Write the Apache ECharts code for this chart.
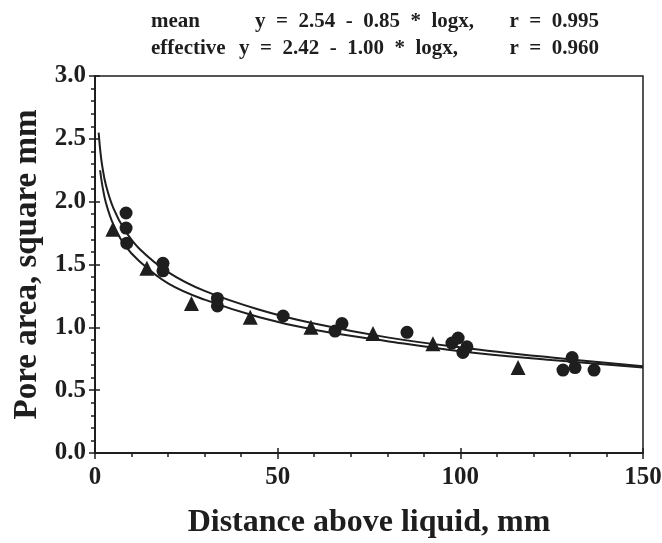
<!DOCTYPE html>
<html>
<head>
<meta charset="utf-8">
<script src="https://cdn.jsdelivr.net/npm/echarts@6/dist/echarts.min.js"></script>
<style>
html,body{margin:0;padding:0;background:#fff;}
#chart{width:662px;height:543px;}
</style>
</head>
<body>
<div id="chart"></div>
<script>
// Mean pore area measurements (circles)
var meanX = [8.5, 8.5, 8.7, 18.6, 18.6, 33.5, 33.5, 51.5, 65.7, 67.6, 85.4, 97.7, 99.4, 101.8, 100.7, 128.1, 130.6, 131.4, 136.6];
var meanY = [1.91, 1.79, 1.67, 1.51, 1.45, 1.23, 1.17, 1.09, 0.97, 1.03, 0.96, 0.875, 0.915, 0.845, 0.80, 0.66, 0.76, 0.68, 0.66];

// Effective pore area measurements (triangles)
var effX = [4.9, 14.2, 26.4, 42.5, 59.1, 76.1, 92.5, 115.8];
var effY = [1.78, 1.47, 1.19, 1.08, 1.00, 0.95, 0.87, 0.68];

// Fitted curves
var fitMeanX = [1, 1.5, 2, 3, 5, 8, 12, 20, 30, 45, 60, 80, 100, 125, 150];
var fitMeanY = [2.55, 2.39, 2.28, 2.13, 1.95, 1.78, 1.63, 1.44, 1.29, 1.14, 1.03, 0.92, 0.84, 0.76, 0.69];
var fitEffX = [1.4, 2, 3, 5, 8, 12, 20, 30, 45, 60, 80, 100, 125, 150];
var fitEffY = [2.25, 2.13, 1.99, 1.82, 1.66, 1.53, 1.35, 1.22, 1.08, 0.98, 0.89, 0.81, 0.74, 0.68];

// Axis setup
var xMin = 0, xMax = 150, xStep = 50;
var yMin = 0, yMax = 3, yStep = 0.5;

function pairs(xs, ys) {
  return xs.map(function (x, i) { return [x, ys[i]]; });
}

var ink = '#1e1e1e';
var serif = '"Liberation Serif", "DejaVu Serif", serif';

var chart = echarts.init(document.getElementById('chart'), null, { renderer: 'canvas' });

var headerStyle = { fontFamily: serif, fontWeight: 'bold', fontSize: 21, fill: ink };

chart.setOption({
  animation: false,
  backgroundColor: '#fff',
  grid: {
    left: 95, top: 76, right: 19, bottom: 90,
    outerBoundsMode: 'none', containLabel: false,
    show: true, borderColor: ink, borderWidth: 1.5, backgroundColor: 'transparent'
  },
  graphic: [
    { type: 'text', left: 151, top: 11, style: Object.assign({ text: 'mean' }, headerStyle) },
    { type: 'text', left: 255, top: 11, style: Object.assign({ text: 'y  =  2.54  -  0.85  *  logx,' }, headerStyle) },
    { type: 'text', right: 63, top: 11, style: Object.assign({ text: 'r  =  0.995' }, headerStyle) },
    { type: 'text', left: 151, top: 38, style: Object.assign({ text: 'effective' }, headerStyle) },
    { type: 'text', left: 239, top: 38, style: Object.assign({ text: 'y  =  2.42  -  1.00  *  logx,' }, headerStyle) },
    { type: 'text', right: 63, top: 38, style: Object.assign({ text: 'r  =  0.960' }, headerStyle) }
  ],
  xAxis: [{
    type: 'value', min: xMin, max: xMax, interval: xStep,
    name: 'Distance above liquid, mm', nameLocation: 'middle', nameGap: 54,
    nameTextStyle: { fontFamily: serif, fontWeight: 'bold', fontSize: 32, color: ink },
    axisLine: { show: true, onZero: false, lineStyle: { color: ink, width: 2 } },
    axisTick: { show: true, length: 6, lineStyle: { color: ink, width: 1.5 } },
    minorTick: { show: true, splitNumber: 5, length: 4, lineStyle: { color: ink, width: 1.5 } },
    axisLabel: { margin: 12, fontFamily: serif, fontWeight: 'bold', fontSize: 25, color: ink },
    splitLine: { show: false }
  }, {
    type: 'value', min: xMin, max: xMax, interval: xStep, position: 'bottom',
    axisLine: { show: false }, axisLabel: { show: false }, splitLine: { show: false },
    axisTick: { show: true, inside: true, length: 5, lineStyle: { color: ink, width: 1.5 } }
  }],
  yAxis: [{
    type: 'value', min: yMin, max: yMax, interval: yStep,
    name: 'Pore area, square mm', nameLocation: 'middle', nameGap: 46,
    nameTextStyle: { fontFamily: serif, fontWeight: 'bold', fontSize: 33, color: ink },
    axisLine: { show: true, onZero: false, lineStyle: { color: ink, width: 2 } },
    axisTick: { show: true, length: 6, lineStyle: { color: ink, width: 1.5 } },
    minorTick: { show: true, splitNumber: 5, length: 4, lineStyle: { color: ink, width: 1.5 } },
    axisLabel: { margin: 9, fontFamily: serif, fontWeight: 'bold', fontSize: 25, color: ink,
      formatter: function (v) { return v.toFixed(1); } },
    splitLine: { show: false }
  }, {
    type: 'value', min: yMin, max: yMax, interval: yStep, position: 'left',
    axisLine: { show: false }, axisLabel: { show: false }, splitLine: { show: false },
    axisTick: { show: true, inside: true, length: 5, lineStyle: { color: ink, width: 1.5 } }
  }],
  series: [
    {
      name: 'mean fit', type: 'line', smooth: 0.4, showSymbol: false, silent: true,
      lineStyle: { color: ink, width: 2 }, data: pairs(fitMeanX, fitMeanY), z: 2
    },
    {
      name: 'effective fit', type: 'line', smooth: 0.4, showSymbol: false, silent: true,
      lineStyle: { color: ink, width: 2 }, data: pairs(fitEffX, fitEffY), z: 2
    },
    {
      name: 'mean', type: 'scatter', symbol: 'circle', symbolSize: 13,
      itemStyle: { color: ink, opacity: 1 }, data: pairs(meanX, meanY), z: 3
    },
    {
      name: 'effective', type: 'scatter', symbol: 'triangle', symbolSize: 15,
      itemStyle: { color: ink, opacity: 1 }, data: pairs(effX, effY), z: 3
    }
  ]
});
</script>
</body>
</html>
